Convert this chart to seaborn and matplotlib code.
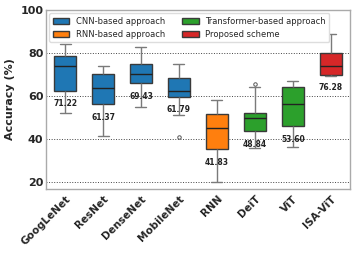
import pandas as pd
import matplotlib
matplotlib.use("Agg")
import matplotlib.pyplot as plt
import seaborn as sns

# (whisker low, q1, median, q3, whisker high, extras for outliers)
models = ["GoogLeNet", "ResNet", "DenseNet", "MobileNet", "RNN", "DeiT", "ViT", "ISA-ViT"]
groups = ["CNN-based approach"] * 4 + ["RNN-based approach"] + \
         ["Transformer-based approach"] * 2 + ["Proposed scheme"]
googlenet = [52.2, 62.4, 74.0, 78.8, 84.0]
resnet = [41.7, 56.3, 63.7, 70.2, 73.9]
densenet = [55.0, 66.0, 70.3, 74.8, 83.0]
mobilenet = [41.2, 51.2, 59.8, 61.0, 62.4, 65.0, 68.3, 72.0, 75.0]
rnn = [20.4, 35.4, 45.4, 51.9, 58.1]
deit = [35.9, 40.0, 43.7, 47.0, 49.8, 51.0, 52.1, 64.1, 65.5]
vit = [36.3, 46.1, 56.3, 64.1, 67.2]
isavit = [69.5, 70.0, 73.9, 79.9, 88.7]
mean_labels = ["71.22", "61.37", "69.43", "61.79", "41.83", "48.84", "53.60", "76.28"]

samples = [googlenet, resnet, densenet, mobilenet, rnn, deit, vit, isavit]
rows = []
for m, g, vals in zip(models, groups, samples):
    for v in vals:
        rows.append({"model": m, "group": g, "acc": v})
df = pd.DataFrame(rows)

palette = {"CNN-based approach": "#1f77b4", "RNN-based approach": "#ff7f0e",
           "Transformer-based approach": "#2ca02c", "Proposed scheme": "#d62728"}

sns.set_style("white")
fig, ax = plt.subplots(figsize=(3.57, 2.62), dpi=100)
sns.boxplot(data=df, x="model", y="acc", hue="group", order=models,
            hue_order=list(palette.keys()), palette=palette, dodge=False,
            width=0.58, linewidth=1.0, linecolor="#3a3a3a", saturation=1,
            whiskerprops={"color": "#7a7a7a"}, capprops={"color": "#7a7a7a"},
            medianprops={"color": "#222222"},
            flierprops={"marker": "o", "markersize": 2.5, "markerfacecolor": "none",
                        "markeredgecolor": "#555555", "markeredgewidth": 0.7},
            ax=ax)

ax.set_ylim(17, 100)
ax.set_yticks([20, 40, 60, 80, 100])
ax.yaxis.grid(True, linestyle=":", color="#444444", linewidth=0.7)
ax.set_axisbelow(True)
ax.set_xlabel("")
ax.set_ylabel("Accuracy (%)", fontsize=8, fontweight="bold")
ax.tick_params(axis="y", labelsize=8, length=0, pad=2)
ax.tick_params(axis="x", labelsize=7.5, length=2.5, color="#999999", pad=1)
for lab in ax.get_yticklabels():
    lab.set_fontweight("bold")
for lab in ax.get_xticklabels():
    lab.set_fontweight("bold")
    lab.set_rotation(45)
    lab.set_ha("right")
    lab.set_rotation_mode("anchor")
for s in ax.spines.values():
    s.set_color("#aaaaaa")
    s.set_linewidth(1.0)

q1s = df.groupby("model")["acc"].quantile(0.25)
for i, (m, txt) in enumerate(zip(models, mean_labels)):
    ax.text(i, q1s[m] - 6, txt, ha="center", va="center", fontsize=5.5,
            fontweight="bold", color="#222222")

handles, labels = ax.get_legend_handles_labels()
ax.legend(handles, labels, loc="upper left", ncol=2, fontsize=6, columnspacing=2.0,
          frameon=True, framealpha=1, edgecolor="#dddddd", borderaxespad=0.4)

fig.subplots_adjust(left=0.129, right=0.98, top=0.962, bottom=0.279)
fig.savefig("out.png", dpi=100)
